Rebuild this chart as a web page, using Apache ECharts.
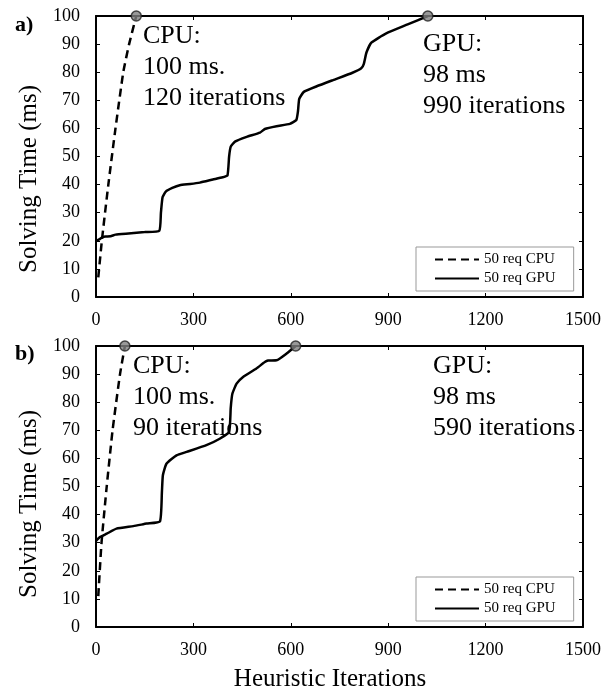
<!DOCTYPE html>
<html>
<head>
<meta charset="utf-8">
<script src="https://cdn.jsdelivr.net/npm/echarts@6/dist/echarts.min.js"></script>
<style>
  html, body { margin: 0; padding: 0; background: #fff; }
  #chart { width: 604px; height: 694px; }
</style>
</head>
<body>
<div id="chart"></div>
<script>
// points are [heuristic iterations, solving time (ms)]
const cpuA = [[7, 7], [18, 20], [38, 40], [60, 60], [84, 80], [102, 90], [124, 100]];
const gpuA = [[0, 20], [10, 20.5], [20, 21.3], [30, 21.5], [45, 21.6], [60, 22.2], [100, 22.6],
  [150, 23.1], [195, 23.6], [200, 30], [205, 35.5], [215, 37.5], [235, 38.8], [258, 39.8],
  [290, 40.2], [320, 40.7], [360, 41.8], [390, 42.6], [405, 43.3], [410, 50], [415, 53.5],
  [428, 55.3], [464, 57], [505, 58.5], [520, 59.8], [556, 60.8], [597, 61.6], [617, 63],
  [622, 66], [626, 70.5], [640, 73], [680, 75], [730, 77.2], [790, 79.8], [817, 81.4],
  [825, 83], [833, 87], [848, 90.5], [894, 93.8], [960, 97], [1022, 100]];
const cpuB = [[7, 11], [17, 30], [33, 50], [51, 70], [74, 90], [89, 100]];
const gpuB = [[0, 30.6], [12, 32], [33, 33.2], [63, 35], [115, 35.9], [156, 36.8], [197, 37.6],
  [203, 48], [206, 54], [217, 58.1], [248, 61.1], [279, 62.3], [340, 64.7], [381, 67],
  [410, 69.4], [415, 78], [420, 83], [433, 86.6], [453, 89], [494, 92], [520, 94.3],
  [530, 94.8], [556, 94.9], [587, 97.3], [615, 100]];

const seriesNames = ['50 req CPU', '50 req GPU'];
const panelLabels = ['a)', 'b)'];
const notesA = [['CPU:', '100 ms.', '120 iterations'], ['GPU:', '98 ms', '990 iterations']];
const notesB = [['CPU:', '100 ms.', '90 iterations'], ['GPU:', '98 ms', '590 iterations']];
const yTitle = 'Solving Time (ms)';
const xTitle = 'Heuristic Iterations';

const FONT = '"Liberation Serif", "Times New Roman", serif';
const chart = echarts.init(document.getElementById('chart'));

const gridTops = [16, 346];
const axisLine = { show: true, onZero: false, lineStyle: { color: '#000', width: 2 } };
const tick = { show: true, inside: true, length: 4, lineStyle: { color: '#000', width: 1 } };
const label = { fontFamily: FONT, fontSize: 18, color: '#000', formatter: v => String(v) };

const xAxes = [];
const yAxes = [];
gridTops.forEach((t, g) => {
  xAxes.push({ gridIndex: g, type: 'value', min: 0, max: 1500, interval: 300, position: 'bottom',
    axisLine, axisTick: tick, splitLine: { show: false }, axisLabel: { ...label, margin: 14 } });
  xAxes.push({ gridIndex: g, type: 'value', min: 0, max: 1500, interval: 300, position: 'top',
    axisLine, axisTick: tick, splitLine: { show: false }, axisLabel: { show: false } });
  yAxes.push({ gridIndex: g, type: 'value', min: 0, max: 100, interval: 10, position: 'left',
    axisLine, axisTick: tick, splitLine: { show: false }, axisLabel: { ...label, margin: 16 } });
  yAxes.push({ gridIndex: g, type: 'value', min: 0, max: 100, interval: 10, position: 'right',
    axisLine, axisTick: tick, splitLine: { show: false }, axisLabel: { show: false } });
});

function lineSeries(name, data, g, dashed) {
  return {
    name, type: 'line', data, xAxisIndex: g * 2, yAxisIndex: g * 2,
    symbol: 'none', smooth: 0.15, z: 3,
    lineStyle: { color: '#000', width: 2.5, type: dashed ? [8, 5] : 'solid' },
    itemStyle: { color: '#000' }
  };
}

function endMarkers(g, curves) {
  return {
    name: 'end' + g, type: 'scatter', xAxisIndex: g * 2, yAxisIndex: g * 2, clip: false, z: 5,
    data: curves.map(c => c[c.length - 1]), symbol: 'circle', symbolSize: 10,
    itemStyle: { color: '#808080', borderColor: '#222', borderWidth: 1.5 }
  };
}

const series = [
  lineSeries(seriesNames[0], cpuA, 0, true),
  lineSeries(seriesNames[1], gpuA, 0, false),
  endMarkers(0, [cpuA, gpuA]),
  lineSeries(seriesNames[0], cpuB, 1, true),
  lineSeries(seriesNames[1], gpuB, 1, false),
  endMarkers(1, [cpuB, gpuB])
];

const legendAt = top => ({
  data: seriesNames, orient: 'vertical', left: 416, top, itemGap: 4,
  itemWidth: 44, itemHeight: 14, padding: [5, 18, 5, 18],
  backgroundColor: '#fff', borderColor: '#999', borderWidth: 1,
  itemStyle: { opacity: 0 },
  textStyle: { fontFamily: FONT, fontSize: 15, color: '#000' }, selectedMode: false
});

function txt(text, x, y, opts) {
  return { type: 'text', x, y, z: 10, rotation: (opts && opts.rot) || 0,
    style: { text, fill: '#000', fontFamily: FONT, fontSize: (opts && opts.size) || 26,
      fontWeight: (opts && opts.bold) ? 'bold' : 'normal',
      textAlign: (opts && opts.align) || 'left', textVerticalAlign: 'middle' } };
}

function noteBlock(lines, x, y0) {
  return lines.map((s, i) => txt(s, x, y0 + i * 31));
}

const graphic = [
  txt(panelLabels[0], 15, 25, { bold: true, size: 22 }),
  txt(panelLabels[1], 15, 354, { bold: true, size: 22 }),
  txt(yTitle, 29, 179, { rot: Math.PI / 2, align: 'center', size: 25 }),
  txt(yTitle, 29, 504, { rot: Math.PI / 2, align: 'center', size: 25 }),
  txt(xTitle, 330, 679, { align: 'center', size: 25 }),
  ...noteBlock(notesA[0], 143, 36),
  ...noteBlock(notesA[1], 423, 44),
  ...noteBlock(notesB[0], 133, 366),
  ...noteBlock(notesB[1], 433, 366)
];

chart.setOption({
  animation: false,
  backgroundColor: '#fff',
  grid: gridTops.map(t => ({ left: 96, top: t, width: 489, height: 281, containLabel: false })),
  xAxis: xAxes,
  yAxis: yAxes,
  legend: [legendAt(247), legendAt(577)],
  series,
  graphic
});
</script>
</body>
</html>
